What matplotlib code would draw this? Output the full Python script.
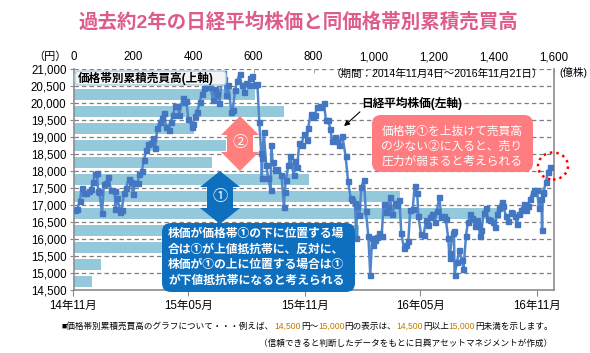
import matplotlib
matplotlib.use("Agg")
import matplotlib.pyplot as plt
from matplotlib.patches import FancyBboxPatch, Polygon, Ellipse, FancyArrowPatch
from matplotlib.transforms import IdentityTransform
import pandas as pd

plt.rcParams['font.family'] = ['Liberation Sans', 'Noto Sans CJK JP', 'DejaVu Sans']

# ---------------- data ----------------
title = "過去約2年の日経平均株価と同価格帯別累積売買高"

band_lows = [14500, 15000, 15500, 16000, 16500, 17000, 17500, 18000, 18500, 19000, 19500, 20000, 20500]
volume_oku = [61, 91, 700, 950, 1425, 1089, 786, 463, 508, 403, 702, 606, 450]

price_dates = [
 "2014-11-04","2014-11-07","2014-11-11","2014-11-14","2014-11-18","2014-11-21","2014-11-25","2014-11-28",
 "2014-12-02","2014-12-05","2014-12-08","2014-12-10","2014-12-12","2014-12-16","2014-12-19","2014-12-22","2014-12-26","2014-12-30",
 "2015-01-05","2015-01-06","2015-01-09","2015-01-14","2015-01-16","2015-01-20","2015-01-23","2015-01-27","2015-01-30",
 "2015-02-03","2015-02-06","2015-02-10","2015-02-13","2015-02-17","2015-02-20","2015-02-24","2015-02-27",
 "2015-03-03","2015-03-06","2015-03-10","2015-03-13","2015-03-17","2015-03-20","2015-03-24","2015-03-27","2015-03-31",
 "2015-04-03","2015-04-07","2015-04-10","2015-04-14","2015-04-17","2015-04-22","2015-04-24","2015-04-28","2015-05-01",
 "2015-05-07","2015-05-08","2015-05-12","2015-05-15","2015-05-19","2015-05-22","2015-05-26","2015-05-29",
 "2015-06-02","2015-06-05","2015-06-09","2015-06-12","2015-06-16","2015-06-19","2015-06-24","2015-06-26","2015-06-30",
 "2015-07-03","2015-07-08","2015-07-10","2015-07-14","2015-07-17","2015-07-21","2015-07-24","2015-07-28","2015-07-31",
 "2015-08-04","2015-08-07","2015-08-10","2015-08-14","2015-08-18","2015-08-21","2015-08-24","2015-08-25","2015-08-26","2015-08-28",
 "2015-09-01","2015-09-04","2015-09-08","2015-09-09","2015-09-11","2015-09-15","2015-09-18","2015-09-25","2015-09-29","2015-09-30",
 "2015-10-02","2015-10-06","2015-10-09","2015-10-14","2015-10-16","2015-10-20","2015-10-23","2015-10-27","2015-10-30",
 "2015-11-04","2015-11-06","2015-11-10","2015-11-13","2015-11-17","2015-11-20","2015-11-24","2015-11-27",
 "2015-12-01","2015-12-04","2015-12-08","2015-12-11","2015-12-14","2015-12-18","2015-12-22","2015-12-25","2015-12-30",
 "2016-01-04","2016-01-08","2016-01-12","2016-01-15","2016-01-19","2016-01-21","2016-01-22","2016-01-26","2016-01-29",
 "2016-02-02","2016-02-05","2016-02-09","2016-02-12","2016-02-15","2016-02-17","2016-02-19","2016-02-23","2016-02-26",
 "2016-03-01","2016-03-04","2016-03-08","2016-03-11","2016-03-14","2016-03-18","2016-03-22","2016-03-25","2016-03-29",
 "2016-04-01","2016-04-05","2016-04-08","2016-04-12","2016-04-15","2016-04-19","2016-04-22","2016-04-26","2016-04-28",
 "2016-05-02","2016-05-06","2016-05-10","2016-05-13","2016-05-17","2016-05-20","2016-05-24","2016-05-27","2016-05-31",
 "2016-06-03","2016-06-07","2016-06-10","2016-06-14","2016-06-16","2016-06-17","2016-06-21","2016-06-23","2016-06-24",
 "2016-06-28","2016-07-01","2016-07-06","2016-07-08","2016-07-12","2016-07-15","2016-07-19","2016-07-22","2016-07-26","2016-07-29",
 "2016-08-02","2016-08-03","2016-08-05","2016-08-09","2016-08-12","2016-08-16","2016-08-19","2016-08-23","2016-08-26","2016-08-30",
 "2016-09-02","2016-09-06","2016-09-09","2016-09-13","2016-09-16","2016-09-21","2016-09-23","2016-09-27","2016-09-30",
 "2016-10-04","2016-10-07","2016-10-11","2016-10-14","2016-10-18","2016-10-21","2016-10-25","2016-10-28",
 "2016-11-01","2016-11-04","2016-11-08","2016-11-09","2016-11-10","2016-11-11","2016-11-15","2016-11-18","2016-11-21",
]
price_values = [
 16862,16880,17124,17490,17344,17357,17407,17459,
 17663,17920,17935,17412,17371,16756,17621,17635,17818,17451,
 17409,16884,17198,16796,16864,17367,17511,17768,17674,
 17336,17648,17652,17913,18005,18332,18604,18798,
 18815,18971,18665,19254,19437,19560,19714,19286,19207,
 19435,19640,19908,19908,19653,20133,20020,20059,19532,
 19292,19380,19625,19733,20026,20264,20437,20563,
 20569,20461,20096,20407,20258,19990,20868,20706,20236,
 20539,19737,19780,20385,20650,20841,20544,20329,20585,
 20520,20724,20808,20520,20555,19436,18540,17806,18376,19136,
 18165,17792,17427,18770,18264,18026,18070,17880,16931,17388,
 17725,18186,18438,17891,18291,18131,18825,18777,19083,
 18926,19265,19671,19597,19649,19879,19924,19883,
 20012,19504,19492,19230,18883,18986,18886,18769,19034,
 18451,17698,17219,17147,17048,16017,16958,16708,17518,
 17750,16820,16085,14953,16022,15837,15967,16053,16188,
 16085,17015,16783,16939,17233,16725,17049,17002,17135,
 16164,15733,15822,15928,16848,16874,17572,17353,16666,
 16147,16106,16566,16412,16652,16736,16499,16834,17235,
 16642,16676,16601,16019,15434,15600,16169,16238,14952,
 15323,15682,15379,15107,16096,16497,16723,16627,16383,16569,
 16391,16083,16254,16764,16920,16596,16546,16497,16361,16725,
 16926,17082,16965,16673,16519,16808,16754,16684,16450,
 16736,16860,17025,16856,16963,17184,17366,17446,
 17442,16905,17172,16251,17345,17374,17668,17968,18106,
]

top_ticks = [0, 200, 400, 600, 800, 1000, 1200, 1400, 1600]
left_ticks = list(range(14500, 21001, 500))
date_ticks = ["2014-11-01", "2015-05-01", "2015-11-01", "2016-05-01", "2016-11-01"]
date_labels = ["14年11月", "15年05月", "15年11月", "16年05月", "16年11月"]

# ---------------- figure ----------------
W, H = 590, 353
fig = plt.figure(figsize=(W / 100, H / 100), dpi=100)
fig.patch.set_facecolor("white")

def fx(x):
    return x / W

def fy(y):
    return 1 - y / H

L, R, T, B = 73.5, 553.5, 69.0, 290.0
ax = fig.add_axes([fx(L), fy(B), (R - L) / W, (B - T) / H])
ax.set_xlim(0, 1600)
ax.set_ylim(14500, 21000)

bar_centers = [b + 250 for b in band_lows]
ax.barh(bar_centers, volume_oku, height=350, color="#93C9DB", zorder=2)

for yv in left_ticks[1:]:
    ax.axhline(yv, color="#7f7f7f", lw=0.9, ls=(0, (3.5, 2.5)), zorder=1)

ax.set_yticks(left_ticks)
ax.set_yticklabels([f"{v:,}" for v in left_ticks], fontsize=8.3)
ax.tick_params(axis="y", length=3, color="#888888", pad=2)
for s in ["left", "right", "bottom"]:
    ax.spines[s].set_color("#8c8c8c")
    ax.spines[s].set_linewidth(1.2)
ax.spines["top"].set_visible(False)

ax2 = ax.twiny()
dates = pd.to_datetime(price_dates)
ax2.plot(dates, price_values, color="#5087CC", lw=1.8, marker="s", ms=3.6,
         mfc="#4377C2", mec="#4377C2", zorder=5)
ax2.set_xlim(pd.Timestamp("2014-11-01"), pd.Timestamp("2016-11-27"))
ax2.set_ylim(14500, 21000)
ax2.xaxis.tick_bottom()
ax2.set_xticks(pd.to_datetime(date_ticks))
ax2.set_xticklabels(date_labels, fontsize=8.3)
ax2.tick_params(axis="x", length=4, color="#8c8c8c", pad=3)
for s in ax2.spines.values():
    s.set_visible(False)

# top axis for volume (set after twiny, which moves ticks to the bottom)
ax.xaxis.tick_top()
ax.set_xticks(top_ticks)
ax.set_xticklabels([f"{v:,}" for v in top_ticks], fontsize=8.3)
ax.tick_params(axis="x", length=3, color="#aaaaaa", pad=4, direction="in",
               top=True, bottom=False, labeltop=True, labelbottom=False)

# ---------------- texts ----------------
fig.text(fx(298), fy(22), title, color="#DE5B8E", fontsize=14, fontweight="bold",
         ha="center", va="center")
fig.text(fx(50), fy(57), "（円）", fontsize=8, ha="center", va="center")
fig.text(fx(573), fy(73), "(億株)", fontsize=7.6, ha="center", va="center")
fig.text(fx(543), fy(74), "（期間：2014年11月4日～2016年11月21日）", fontsize=7.6,
         ha="right", va="center")

idt = IdentityTransform()

def rbox(x0, y0, x1, y1, color, r, ec="none", lw=0):
    p = FancyBboxPatch((x0, H - y1), x1 - x0, y1 - y0,
                       boxstyle=f"round,pad=0,rounding_size={r}",
                       fc=color, ec=ec, lw=lw, transform=idt, zorder=10)
    fig.patches.append(p)

def dbl_arrow(cx, ytop, ybot, Wd, wd, h, color):
    pts = [(cx, ytop), (cx + Wd / 2, ytop + h), (cx + wd / 2, ytop + h), (cx + wd / 2, ybot - h),
           (cx + Wd / 2, ybot - h), (cx, ybot), (cx - Wd / 2, ybot - h), (cx - wd / 2, ybot - h),
           (cx - wd / 2, ytop + h), (cx - Wd / 2, ytop + h)]
    pts = [(px, H - py) for px, py in pts]
    fig.patches.append(Polygon(pts, closed=True, fc=color, ec="none", transform=idt, zorder=10))

# upper-axis label box
rbox(75, 71, 226, 85, "#F3F3F3", 4, ec="#A9D0E4", lw=1)
fig.text(fx(78), fy(78), "価格帯別累積売買高(上軸)", fontsize=8.4, fontweight="bold",
         ha="left", va="center", zorder=11)

# Nikkei label and arrow
fig.text(fx(361), fy(103), "日経平均株価(左軸)", fontsize=8.4, fontweight="bold",
         ha="left", va="center")
fig.patches.append(FancyArrowPatch((362, H - 110), (342, H - 128), arrowstyle="-|>",
                                   mutation_scale=8, color="black", lw=0.8,
                                   transform=idt, zorder=11))

# pink double arrow 2
dbl_arrow(240, 116, 171, 38, 26, 19, "#FF7F7F")
fig.text(fx(240), fy(143), "②", color="white", fontsize=11, ha="center", va="center", zorder=12)

# blue double arrow 1
dbl_arrow(220, 171, 224, 40, 26, 16, "#0F6FBF")
fig.text(fx(220), fy(197), "①", color="white", fontsize=11, ha="center", va="center", zorder=12)

# blue box
rbox(162, 223, 355, 292, "#0F6FBF", 9)
blue_lines = ["株価が価格帯①の下に位置する場",
              "合は①が上値抵抗帯に、反対に、",
              "株価が①の上に位置する場合は①",
              "が下値抵抗帯になると考えられる"]
for i, s in enumerate(blue_lines):
    fig.text(fx(168), fy(234 + 15.7 * i), s, color="white", fontsize=8.5, fontweight="bold",
             ha="left", va="center", zorder=12)

# red box
rbox(372, 115, 533, 172, "#FF7C80", 9)
red_lines = ["価格帯①を上抜けて売買高",
             "の少ない②に入ると、売り",
             "圧力が弱まると考えられる"]
for i, s in enumerate(red_lines):
    fig.text(fx(452), fy(131.5 + 15 * i), s, color="white", fontsize=8.5,
             ha="center", va="center", zorder=12)

# dotted circle
fig.patches.append(Ellipse((553, H - 166), 30, 27, fill=False, ec="#FF0000", lw=1.8,
                           ls=(0, (1, 1.6)), transform=idt, zorder=12))

# footer with coloured numbers
segments = [("■価格帯別累積売買高のグラフについて・・・例えば、", "black"), ("14,500", "#C07800"),
            ("円～", "black"), ("15,000", "#C07800"), ("円の表示は、", "black"),
            ("14,500", "#C07800"), ("円以上", "black"), ("15,000", "#C07800"),
            ("円未満を示します。", "black")]
renderer = fig.canvas.get_renderer()

def draw_segments(x0, y, size):
    x = x0
    arts = []
    for s, c in segments:
        t = fig.text(x / W, fy(y), s, color=c, fontsize=size, ha="left", va="center")
        bb = t.get_window_extent(renderer)
        x += bb.width
        arts.append(t)
    return x, arts

size = 7.0
for _ in range(3):
    end, arts = draw_segments(62, 326, size)
    for a in arts:
        a.remove()
    size = size * (552 - 62) / (end - 62)
draw_segments(62, 326, size)
fig.text(fx(552), fy(343), "（信頼できると判断したデータをもとに日興アセットマネジメントが作成）",
         fontsize=size, ha="right", va="center")

fig.savefig("out.png", dpi=100)
